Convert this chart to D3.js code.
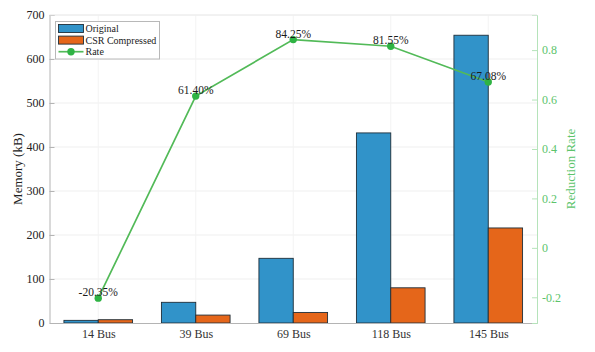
<!DOCTYPE html>
<html>
<head>
<meta charset="utf-8">
<script src="https://cdn.jsdelivr.net/npm/d3@7/dist/d3.min.js"></script>
<style>
  html, body { margin: 0; padding: 0; background: #fff; }
  svg { display: block; }
  text { font-family: "Liberation Serif", serif; }
  .tick text { font-size: 12px; }
</style>
</head>
<body>
<div id="chart"></div>
<script>
const categories = ["14 Bus", "39 Bus", "69 Bus", "118 Bus", "145 Bus"];
const original = [6, 47, 147, 432, 654];
const compressed = [7.5, 18, 24, 80, 216];
const rate = [-0.2035, 0.614, 0.8425, 0.8155, 0.6708];
const rateLabels = ["-20.35%", "61.40%", "84.25%", "81.55%", "67.08%"];
const memoryTicks = [0, 100, 200, 300, 400, 500, 600, 700];
const rateTicks = [-0.2, 0, 0.2, 0.4, 0.6, 0.8];
const legendNames = ["Original", "CSR Compressed", "Rate"];

const width = 595,
  height = 352,
  padLeft = 49.5,
  padRight = 58,
  padTop = 15,
  padBtm = 29;

const blue = "#3193c9",
  orange = "#e5661a",
  green = "#2fb344",
  lineGreen = "#52ba58",
  axisGreen = "#b5e3ba",
  labelGreen = "#5cc46b",
  axisGrey = "#b4b4b4";

const svg = d3.select("#chart")
  .append("svg")
  .attr("width", width)
  .attr("height", height);

// numeric x scale so the bars can sit either side of each category centre
const xScale = d3.scaleLinear()
  .domain([-0.5, categories.length - 0.5])
  .range([padLeft, width - padRight]);

const yLeft = d3.scaleLinear()
  .domain([0, 700])
  .range([height - padBtm, padTop]);

const yRight = d3.scaleLinear()
  .domain([-0.304, 0.942])
  .range([height - padBtm, padTop]);

const barWidth = xScale(0.352) - xScale(0);

// faint grid
svg.append("g")
  .selectAll("line")
  .data(memoryTicks.slice(1))
  .enter()
  .append("line")
  .attr("x1", xScale.range()[0])
  .attr("x2", xScale.range()[1])
  .attr("y1", d => yLeft(d))
  .attr("y2", d => yLeft(d))
  .style("stroke", "#efefef");

svg.append("g")
  .selectAll("line")
  .data(categories)
  .enter()
  .append("line")
  .attr("x1", (d, i) => xScale(i))
  .attr("x2", (d, i) => xScale(i))
  .attr("y1", yLeft(0))
  .attr("y2", yLeft(700))
  .style("stroke", "#f3f3f3");

// bars
function drawBars(values, color, side) {
  svg.append("g")
    .selectAll("rect")
    .data(values)
    .enter()
    .append("rect")
    .attr("x", (d, i) => xScale(i) + (side < 0 ? -barWidth : 0))
    .attr("y", d => yLeft(d))
    .attr("width", barWidth)
    .attr("height", d => yLeft(0) - yLeft(d))
    .style("fill", color)
    .style("stroke", "#1f2f3a")
    .style("stroke-width", 0.9);
}
drawBars(original, blue, -1);
drawBars(compressed, orange, 1);

// axes
const axisLeft = svg.append("g")
  .attr("transform", "translate(" + padLeft + ",0)")
  .call(d3.axisLeft(yLeft).tickValues(memoryTicks).tickSize(-5).tickPadding(5));
axisLeft.select(".domain").style("stroke", axisGrey);
axisLeft.selectAll(".tick line").style("stroke", axisGrey);
axisLeft.selectAll(".tick text").style("fill", "#222");

const axisBottom = svg.append("g")
  .attr("transform", "translate(0," + (height - padBtm) + ")")
  .call(d3.axisBottom(xScale)
    .tickValues(d3.range(categories.length))
    .tickFormat(i => categories[i])
    .tickSize(0)
    .tickPadding(6));
axisBottom.select(".domain").style("stroke", axisGrey);
axisBottom.selectAll(".tick text").style("fill", "#333");

const axisRight = svg.append("g")
  .attr("transform", "translate(" + (width - padRight) + ",0)")
  .call(d3.axisRight(yRight)
    .tickValues(rateTicks)
    .tickFormat(d => String(d))
    .tickSize(-5)
    .tickPadding(5));
axisRight.select(".domain").style("stroke", axisGreen);
axisRight.selectAll(".tick line").style("stroke", axisGreen);
axisRight.selectAll(".tick text").style("fill", labelGreen);

// top border of the plot box
svg.append("line")
  .attr("x1", xScale.range()[0])
  .attr("x2", xScale.range()[1])
  .attr("y1", padTop)
  .attr("y2", padTop)
  .style("stroke", "#ececec");

// axis titles
svg.append("text")
  .text("Memory (kB)")
  .attr("transform", "translate(22," + yLeft(350) + ") rotate(-90)")
  .attr("text-anchor", "middle")
  .style("font-size", "13px")
  .style("fill", "#222");

svg.append("text")
  .text("Reduction Rate")
  .attr("transform", "translate(575," + yLeft(350) + ") rotate(-90)")
  .attr("text-anchor", "middle")
  .style("font-size", "13px")
  .style("fill", labelGreen);

// rate line
const rateLine = d3.line()
  .x((d, i) => xScale(i))
  .y(d => yRight(d));

svg.append("path")
  .datum(rate)
  .attr("d", rateLine)
  .style("fill", "none")
  .style("stroke", lineGreen)
  .style("stroke-width", 1.7);

svg.append("g")
  .selectAll("circle")
  .data(rate)
  .enter()
  .append("circle")
  .attr("cx", (d, i) => xScale(i))
  .attr("cy", d => yRight(d))
  .attr("r", 3.7)
  .style("fill", green);

svg.append("g")
  .selectAll("text")
  .data(rate)
  .enter()
  .append("text")
  .text((d, i) => rateLabels[i])
  .attr("x", (d, i) => xScale(i))
  .attr("y", d => yRight(d) - 2)
  .attr("text-anchor", "middle")
  .style("font-size", "11.5px")
  .style("fill", "#1a1a1a");

// legend
const legend = svg.append("g")
  .attr("transform", "translate(55.5,21.5)");

legend.append("rect")
  .attr("width", 104)
  .attr("height", 37.5)
  .style("fill", "#fff")
  .style("stroke", "#b8b8b8");

legendNames.forEach((name, i) => {
  const rowY = 7 + i * 11.6;
  if (i < 2) {
    legend.append("rect")
      .attr("x", 3)
      .attr("y", rowY - 4)
      .attr("width", 25)
      .attr("height", 8)
      .style("fill", i === 0 ? blue : orange)
      .style("stroke", "#1f2f3a")
      .style("stroke-width", 0.9);
  } else {
    legend.append("line")
      .attr("x1", 3)
      .attr("x2", 28)
      .attr("y1", rowY)
      .attr("y2", rowY)
      .style("stroke", lineGreen)
      .style("stroke-width", 1.7);
    legend.append("circle")
      .attr("cx", 15.5)
      .attr("cy", rowY)
      .attr("r", 3.7)
      .style("fill", green);
  }
  legend.append("text")
    .text(name)
    .attr("x", 30)
    .attr("y", rowY + 3.5)
    .style("font-size", "10px")
    .style("fill", "#222");
});
</script>
</body>
</html>
